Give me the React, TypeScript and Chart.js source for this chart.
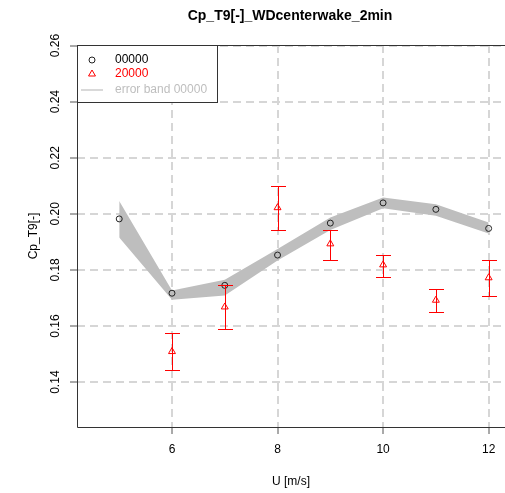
import React, { useEffect, useRef } from "react";
import { Chart, registerables } from "chart.js";

Chart.register(...registerables);

const chartTitle = "Cp_T9[-]_WDcenterwake_2min";
const xTitle = "U [m/s]";
const yTitle = "Cp_T9[-]";
const xTicks = [6, 8, 10, 12];
const yTicks = [0.14, 0.16, 0.18, 0.2, 0.22, 0.24, 0.26];
const yTickLabels = ["0.14", "0.16", "0.18", "0.20", "0.22", "0.24", "0.26"];

const series00000Name = "00000";
const series20000Name = "20000";
const bandName = "error band 00000";

const u00000 = [5, 6, 7, 8, 9, 10, 11, 12];
const cp00000 = [0.1982, 0.1717, 0.1745, 0.1853, 0.1967, 0.2039, 0.2016, 0.1948];
const band00000Upper = [0.2046, 0.1727, 0.1765, 0.1875, 0.1987, 0.2058, 0.2034, 0.1969];
const band00000Lower = [0.1916, 0.1694, 0.1709, 0.1834, 0.1942, 0.202, 0.1993, 0.193];

const u20000 = [6, 7, 8, 9, 10, 11, 12];
const cp20000 = [0.1509, 0.1668, 0.2022, 0.1893, 0.1818, 0.1692, 0.1772];
const err20000Upper = [0.1576, 0.1745, 0.2099, 0.1942, 0.1854, 0.1731, 0.1835];
const err20000Lower = [0.1444, 0.159, 0.1943, 0.1836, 0.1774, 0.1651, 0.1706];

const FONT = "'Liberation Sans', Arial, Helvetica, sans-serif";
const RED = "#ff0000";

const decorPlugin = {
  id: "decor",
  afterDatasetsDraw(chart: any) {
    const ctx = chart.ctx;
    const xs = chart.scales.x;
    const ys = chart.scales.y;
    ctx.save();
    ctx.fillStyle = RED;
    for (let i = 0; i < u20000.length; i++) {
      const px = Math.round(xs.getPixelForValue(u20000[i]));
      const pu = Math.round(ys.getPixelForValue(err20000Upper[i]));
      const pl = Math.round(ys.getPixelForValue(err20000Lower[i]));
      ctx.fillStyle = RED;
      ctx.fillRect(px, pu, 1, pl - pu + 1);
      ctx.fillRect(px - 7, pu, 15, 1);
      ctx.fillRect(px - 7, pl, 15, 1);
    }
    ctx.restore();
  },
  afterDraw(chart: any) {
    const ctx = chart.ctx;
    const { left, top, bottom } = chart.chartArea;
    const right = chart.chartArea.right;
    const xs = chart.scales.x;
    const ys = chart.scales.y;
    ctx.save();
    ctx.setLineDash([]);

    // box (top, left, bottom)
    ctx.strokeStyle = "#333333";
    ctx.lineWidth = 1;
    ctx.beginPath();
    ctx.moveTo(left + 0.5, top + 0.5);
    ctx.lineTo(right, top + 0.5);
    ctx.moveTo(left + 0.5, top);
    ctx.lineTo(left + 0.5, bottom + 0.5);
    ctx.lineTo(right, bottom + 0.5);
    ctx.stroke();

    // title
    ctx.fillStyle = "#000";
    ctx.font = `bold 14px ${FONT}`;
    ctx.textAlign = "center";
    ctx.textBaseline = "middle";
    ctx.fillText(chartTitle, (left + right) / 2 - 1, 16);

    // x tick labels
    ctx.font = `12px ${FONT}`;
    xTicks.forEach((v) => {
      ctx.fillText(String(v), xs.getPixelForValue(v), 450);
    });
    ctx.fillText(xTitle, (left + right) / 2, 482);

    // y tick labels (rotated)
    yTicks.forEach((v, i) => {
      ctx.save();
      ctx.translate(56, ys.getPixelForValue(v));
      ctx.rotate(-Math.PI / 2);
      ctx.fillText(yTickLabels[i], 0, 0);
      ctx.restore();
    });
    ctx.save();
    ctx.translate(34, (top + bottom) / 2);
    ctx.rotate(-Math.PI / 2);
    ctx.fillText(yTitle, 0, 0);
    ctx.restore();

    // legend
    const lx = left + 0.5;
    const ly = top + 0.5;
    const lw = 140;
    const lh = 57;
    ctx.fillStyle = "#ffffff";
    ctx.fillRect(lx, ly, lw, lh);
    ctx.strokeStyle = "#333333";
    ctx.strokeRect(lx, ly, lw, lh);

    ctx.textAlign = "left";
    ctx.font = `12px ${FONT}`;
    ctx.strokeStyle = "#222222";
    ctx.beginPath();
    ctx.arc(92, 60, 3, 0, Math.PI * 2);
    ctx.stroke();
    ctx.fillStyle = "#000";
    ctx.fillText(series00000Name, 115, 60);
    ctx.strokeStyle = RED;
    ctx.beginPath();
    const tr = 4;
    const tcx = 92, tcy = 74;
    ctx.moveTo(tcx, tcy - tr);
    ctx.lineTo(tcx + tr * Math.sin((2 * Math.PI) / 3), tcy - tr * Math.cos((2 * Math.PI) / 3));
    ctx.lineTo(tcx + tr * Math.sin((4 * Math.PI) / 3), tcy - tr * Math.cos((4 * Math.PI) / 3));
    ctx.closePath();
    ctx.stroke();
    ctx.fillStyle = RED;
    ctx.fillText(series20000Name, 115, 74);
    ctx.strokeStyle = "#cccccc";
    ctx.lineWidth = 1.5;
    ctx.beginPath();
    ctx.moveTo(81, 90);
    ctx.lineTo(103, 90);
    ctx.stroke();
    ctx.fillStyle = "#bebebe";
    ctx.fillText(bandName, 115, 90);
    ctx.restore();
  },
};

export default function App() {
  const ref = useRef<HTMLCanvasElement>(null);
  useEffect(() => {
    if (!ref.current) return;
    const chart = new Chart(ref.current, {
      type: "line",
      data: {
        datasets: [
          {
            label: series00000Name,
            data: u00000.map((x, i) => ({ x, y: cp00000[i] })),
            showLine: false,
            pointStyle: "circle",
            pointRadius: 3,
            pointBorderWidth: 1,
            pointBorderColor: "#222222",
            pointBackgroundColor: "rgba(0,0,0,0)",
            borderColor: "#222222",
          },
          {
            label: series20000Name,
            data: u20000.map((x, i) => ({ x, y: cp20000[i] })),
            showLine: false,
            pointStyle: "triangle",
            pointRadius: 4,
            pointBorderWidth: 1,
            pointBorderColor: RED,
            pointBackgroundColor: "rgba(0,0,0,0)",
            borderColor: RED,
          },
          {
            label: "band upper",
            data: u00000.map((x, i) => ({ x, y: band00000Upper[i] })),
            pointRadius: 0,
            borderColor: "rgba(0,0,0,0)",
            borderWidth: 1,
            fill: false,
            tension: 0,
          },
          {
            label: bandName,
            data: u00000.map((x, i) => ({ x, y: band00000Lower[i] })),
            pointRadius: 0,
            borderColor: "rgba(0,0,0,0)",
            borderWidth: 1,
            backgroundColor: "#bebebe",
            fill: "-1",
            tension: 0,
          },
        ],
      },
      options: {
        responsive: false,
        animation: false,
        devicePixelRatio: 1,
        layout: { padding: { top: 45, left: 0, right: 0, bottom: 0 } },
        plugins: {
          legend: { display: false },
          title: { display: false },
          tooltip: { enabled: false },
        },
        events: [],
        scales: {
          x: {
            type: "linear",
            min: 4.2,
            max: 12.31,
            afterBuildTicks: (s: any) => {
              s.ticks = xTicks.map((v) => ({ value: v }));
            },
            afterFit: (s: any) => {
              s.height = 66;
              s.paddingLeft = 0;
              s.paddingRight = 0;
            },
            ticks: { display: false },
            grid: {
              color: "#d6d6d6",
              lineWidth: 2,
              drawTicks: true,
              tickLength: 7,
              tickColor: "#555555",
              tickWidth: 1,
            },
            border: { display: false, dash: [8, 5] },
          },
          y: {
            type: "linear",
            min: 0.124,
            max: 0.2602,
            afterBuildTicks: (s: any) => {
              s.ticks = yTicks.map((v) => ({ value: v }));
            },
            afterFit: (s: any) => {
              s.width = 77;
              s.paddingTop = 0;
              s.paddingBottom = 0;
            },
            ticks: { display: false },
            grid: {
              color: "#d6d6d6",
              lineWidth: 2,
              drawTicks: true,
              tickLength: 7,
              tickColor: "#555555",
              tickWidth: 1,
            },
            border: { display: false, dash: [8, 5] },
          },
        },
      } as any,
      plugins: [decorPlugin],
    });
    return () => chart.destroy();
  }, []);
  return (
    <div style={{ position: "fixed", left: 0, top: 0, width: 510, height: 493, background: "#fff" }}>
      <canvas ref={ref} width={510} height={493} style={{ display: "block" }} />
    </div>
  );
}
